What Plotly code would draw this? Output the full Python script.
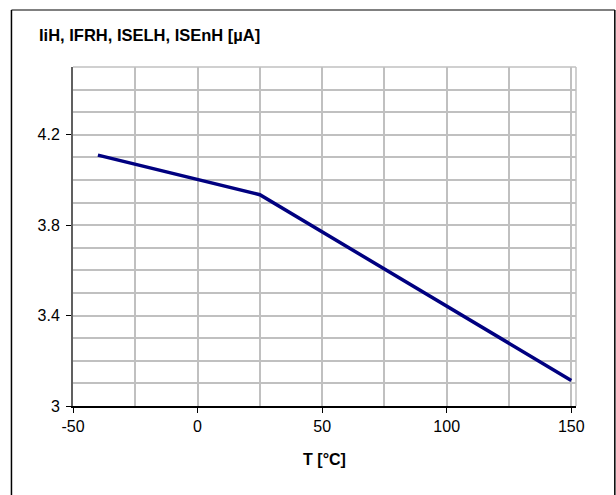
import plotly.graph_objects as go

# Data
temperature = [-40, 25, 150]
current = [4.11, 3.935, 3.113]

x_tick_vals = [-50, 0, 50, 100, 150]
x_tick_text = ["-50", "0", "50", "100", "150"]

title_text = "IiH, IFRH, ISELH, ISEnH [µA]"
x_title = "T [°C]"

W, H = 616, 495
L, R, T, B = 73, 40.3, 66.7, 88.7
pw = W - L - R
ph = H - T - B

def px_x(px):
    return (px - L) / pw

def px_y(py):
    return (H - B - py) / ph

fig = go.Figure()
fig.add_trace(go.Scatter(
    x=temperature, y=current, mode="lines",
    line=dict(color="#000080", width=3.5),
    showlegend=False, hoverinfo="skip",
))

grid = "#c0c0c0"
font = "Liberation Sans, Arial, sans-serif"

fig.update_layout(
    width=W, height=H,
    margin=dict(l=L, r=R, t=T, b=B, autoexpand=False),
    paper_bgcolor="white", plot_bgcolor="white",
    font=dict(family=font, size=16, color="black"),
    title=dict(
        text="<b>" + title_text + "</b>",
        xref="container", yref="container",
        x=39 / W, xanchor="left",
        y=1 - 35 / H, yanchor="middle",
        font=dict(family=font, size=16.5, color="black"),
    ),
    xaxis=dict(
        range=[-50, 151.9],
        tickmode="array", tickvals=x_tick_vals, ticktext=x_tick_text,
        showgrid=True, gridcolor=grid, gridwidth=1.5,
        minor=dict(tick0=-50, dtick=25, showgrid=True, gridcolor=grid, gridwidth=1.5, ticklen=0),
        showline=True, linecolor="black", linewidth=1.5,
        ticks="outside", ticklen=5, tickcolor="black", tickwidth=1,
        zeroline=False,
        title=dict(text="<b>" + x_title + "</b>", standoff=20, font=dict(size=16)),
        tickfont=dict(size=16),
    ),
    yaxis=dict(
        range=[3, 4.5], tick0=3, dtick=0.4,
        showgrid=True, gridcolor=grid, gridwidth=1.5,
        minor=dict(tick0=3, dtick=0.1, showgrid=True, gridcolor=grid, gridwidth=1.5, ticklen=0),
        showline=True, linecolor="#606060", linewidth=2,
        ticks="outside", ticklen=5, tickcolor="black", tickwidth=1,
        zeroline=False,
        tickfont=dict(size=16),
        ticklabelstandoff=3,
    ),
    shapes=[
        dict(type="line", xref="paper", yref="paper", x0=1, x1=1, y0=0, y1=1,
             line=dict(color=grid, width=1.5), layer="below"),
        dict(type="line", xref="paper", yref="paper", x0=0, x1=1, y0=1, y1=1,
             line=dict(color=grid, width=1.5), layer="below"),
        dict(type="line", xref="paper", yref="paper", x0=px_x(11.5), x1=px_x(614.5),
             y0=px_y(9.5), y1=px_y(9.5), line=dict(color="#808080", width=2)),
        dict(type="line", xref="paper", yref="paper", x0=px_x(11.5), x1=px_x(11.5),
             y0=px_y(9.5), y1=px_y(500), line=dict(color="black", width=1.5)),
        dict(type="line", xref="paper", yref="paper", x0=px_x(614.5), x1=px_x(614.5),
             y0=px_y(9.5), y1=px_y(500), line=dict(color="black", width=1.5)),
    ],
)

fig.write_html("out.html")
